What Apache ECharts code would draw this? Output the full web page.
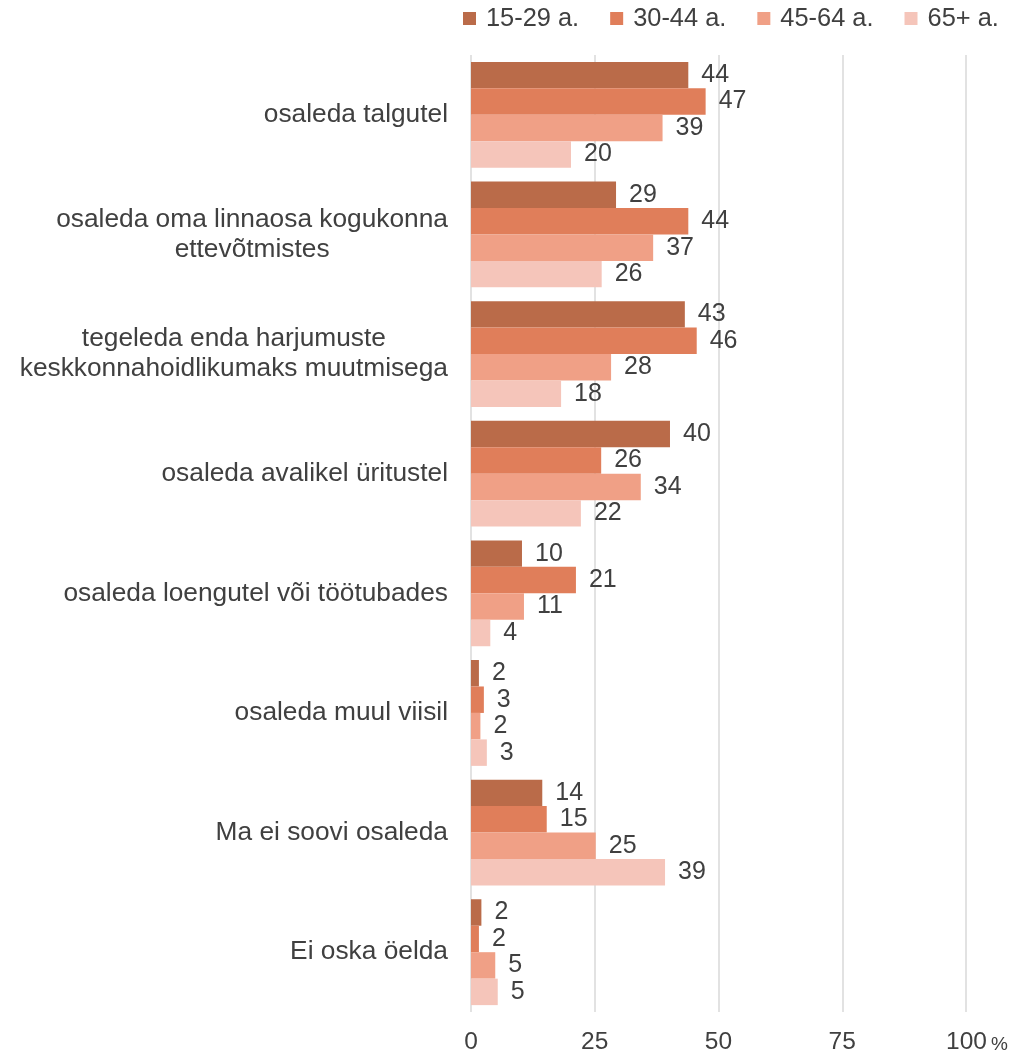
<!DOCTYPE html>
<html>
<head>
<meta charset="utf-8">
<script src="https://cdn.jsdelivr.net/npm/echarts@6/dist/echarts.min.js"></script>
<style>
html,body{margin:0;padding:0;background:#fff;}
#c{width:1015px;height:1055px;}
</style>
</head>
<body>
<div id="c"></div>
<script>
const categories = [
  'osaleda talgutel',
  'osaleda oma linnaosa kogukonna\nettevõtmistes',
  'tegeleda enda harjumuste\nkeskkonnahoidlikumaks muutmisega',
  'osaleda avalikel üritustel',
  'osaleda loengutel või töötubades',
  'osaleda muul viisil',
  'Ma ei soovi osaleda',
  'Ei oska öelda'
];
const seriesNames = ['15-29 a.', '30-44 a.', '45-64 a.', '65+ a.'];
const age15_29 = [43.9, 29.3, 43.2, 40.2, 10.3, 1.6, 14.4, 2.1];
const age30_44 = [47.4, 43.9, 45.6, 26.3, 21.2, 2.6, 15.3, 1.6];
const age45_64 = [38.7, 36.8, 28.3, 34.3, 10.7, 1.9, 25.2, 4.9];
const age65plus = [20.2, 26.4, 18.2, 22.2, 3.9, 3.2, 39.2, 5.4];
const xTicks = [0, 25, 50, 75, 100];
const colors = ['#BA6B49', '#E07E5A', '#F0A086', '#F5C5BA'];

const FONT = '"Liberation Sans", Arial, sans-serif';
const TXT = '#404040';

const chart = echarts.init(document.getElementById('c'), null, {renderer: 'canvas'});
const allData = [age15_29, age30_44, age45_64, age65plus];

const option = {
  animation: false,
  backgroundColor: '#fff',
  textStyle: {fontFamily: FONT},
  legend: {
    left: 463, top: 6, padding: 0,
    itemWidth: 13, itemHeight: 13, itemGap: 31,
    icon: 'rect',
    textStyle: {fontSize: 25.4, color: TXT, fontFamily: FONT, padding: [0, 0, 0, 5]},
    data: seriesNames
  },
  grid: {left: 471, right: 49, top: 55, bottom: 42, containLabel: false},
  xAxis: {
    type: 'value', min: 0, max: 100, interval: 25,
    axisLine: {show: false}, axisTick: {show: false},
    splitLine: {show: true, lineStyle: {color: '#D9D9D9', width: 1.5}},
    axisLabel: {
      margin: 18, color: TXT, fontSize: 24.5, fontFamily: FONT,
      formatter: function (v) {
        if (v === xTicks[xTicks.length - 1]) return '{s|}{n|' + v + '}{p|%}';
        return '{n|' + v + '}';
      },
      rich: {
        n: {fontSize: 24.5, color: TXT, fontFamily: FONT},
        s: {width: 22},
        p: {fontSize: 19, color: TXT, fontFamily: FONT, padding: [4, 0, 0, 4]}
      }
    }
  },
  yAxis: {
    type: 'category', inverse: true, data: categories,
    axisLine: {show: false}, axisTick: {show: false},
    axisLabel: {
      margin: 23, color: TXT, fontSize: 26.3, fontFamily: FONT,
      formatter: function (v) {
        return v.split('\n').map(l => '{c|' + l + '}').join('\n');
      },
      rich: {
        c: {align: 'center', fontSize: 26.3, color: TXT, fontFamily: FONT, lineHeight: 30}
      }
    }
  },
  series: seriesNames.map((name, i) => ({
    name: name, type: 'bar', data: allData[i],
    barGap: '0%', barCategoryGap: '11.5%',
    itemStyle: {color: colors[i]},
    label: {
      show: true, position: 'right', distance: 13,
      color: TXT, fontSize: 25, fontFamily: FONT,
      formatter: p => Math.round(p.value)
    }
  }))
};
chart.setOption(option);
</script>
</body>
</html>
